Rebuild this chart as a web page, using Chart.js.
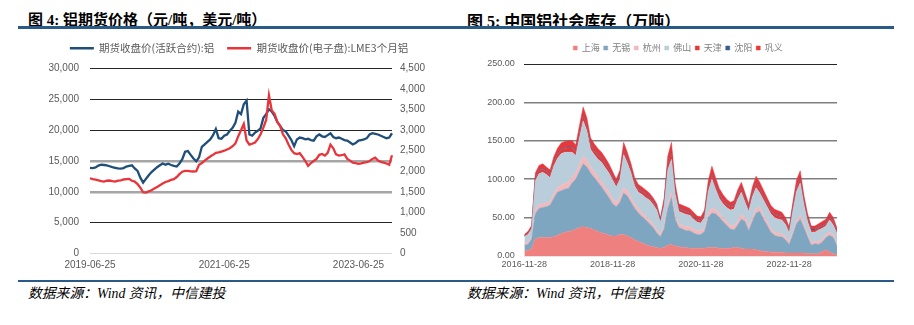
<!DOCTYPE html>
<html>
<head>
<meta charset="utf-8">
<script src="https://cdn.jsdelivr.net/npm/chart.js@4.4.1/dist/chart.umd.min.js"></script>
<style>
  body { margin: 0; background: #fff; width: 914px; height: 325px; position: relative; overflow: hidden; }
  .title { position: absolute; top: 8px; line-height: 18px; font: bold 15px "Liberation Serif", "Noto Sans CJK SC", sans-serif; color: #000; white-space: nowrap; }
  .rule { position: absolute; left: 18px; width: 876px; background: #2a5a87; }
  .src { position: absolute; top: 282px; line-height: 18px; font: italic 13.8px "Liberation Serif", "Noto Sans CJK SC", serif; color: #000; white-space: nowrap; }
  .box { position: absolute; top: 30px; width: 457px; height: 250px; }
</style>
</head>
<body>
<div class="title" style="left:28px">图 4: 铝期货价格（元/吨，美元/吨）</div>
<div class="title" style="left:467px;font-size:16px">图 5: 中国铝社会库存（万吨）</div>
<div class="rule" style="top:26px;height:2.5px"></div>
<div class="rule" style="top:280px;height:1.5px"></div>
<div class="src" style="left:28px">数据来源：Wind 资讯，中信建投</div>
<div class="src" style="left:467px">数据来源：Wind 资讯，中信建投</div>
<div class="box" style="left:0"><canvas id="priceChart" width="457" height="250"></canvas></div>
<div class="box" style="left:457px"><canvas id="stockChart" width="457" height="250"></canvas></div>
<script>
// 图4: semi-monthly closes, 2019-06-25 .. 2024-01
const shfeAl = [
  13900, 13850, 13950, 14250, 14400, 14350, 14300, 14150, 14000, 13900,
  13800, 13750, 13850, 14100, 14200, 14300, 13800, 13400, 12300, 11500,
  12100, 12700, 13200, 13600, 14000, 14300, 14600, 14400, 14550, 14350,
  14200, 14100, 14600, 15300, 16500, 16600, 16000, 15400, 14950, 15600,
  17300, 17700, 18100, 18500, 19200, 20200, 18700, 18600, 19100, 19300,
  19900, 20400, 21200, 23000, 22600, 24200, 24800, 19300, 19100, 19600,
  19900, 20300, 22000, 22600, 23400, 23000, 22300, 21300, 20700, 20000,
  19800, 19100, 18400, 17400, 18500, 18800, 18700, 18500, 18600, 18400,
  18300, 19000, 19300, 19000, 18900, 19200, 19500, 18900, 18700, 18800,
  18600, 18400, 18300, 18000, 17700, 17900, 18300, 18400, 18500, 18700,
  19300, 19500, 19400, 19300, 19100, 18900, 18700, 18800, 19500
];
const lmeAl = [
  1830, 1810, 1795, 1780, 1760, 1750, 1770, 1775, 1760, 1750,
  1770, 1780, 1800, 1810, 1815, 1770, 1750, 1690, 1600, 1490,
  1480, 1510, 1540, 1580, 1620, 1660, 1700, 1740, 1760, 1790,
  1810, 1860, 1930, 1990, 2010, 2010, 2000, 1995, 2000, 2160,
  2200, 2260, 2310, 2360, 2400, 2450, 2460, 2480, 2500, 2530,
  2560, 2610, 2680, 2850, 3000, 3150, 2750, 2650, 2670, 2700,
  2780, 2900, 3060, 3250, 3850, 3480, 3400, 3200, 3100, 2900,
  2800, 2650, 2520, 2440, 2420, 2440, 2350, 2250, 2130, 2200,
  2250, 2300, 2400, 2420, 2380, 2450, 2650, 2560, 2410, 2380,
  2390, 2410, 2300, 2260, 2210, 2200, 2180, 2190, 2210, 2220,
  2250, 2300, 2330, 2260, 2230, 2210, 2190, 2160, 2390
];
const priceTickIndex = [0, 48, 96];
const priceTickLabels = ['2019-06-25', '2021-06-25', '2023-06-25'];

// 图5: monthly, 2016-11 .. 2023-12 (万吨)
const shanghai = [
  7, 7, 10, 22, 24, 24, 24, 24, 25, 27,
  29, 31, 32, 33, 35, 37, 38, 37, 36, 34,
  32, 30, 29, 27, 26, 26, 28, 28, 26, 24,
  21, 19, 17, 15, 13, 12, 11, 10, 11, 14,
  15, 13, 12, 11, 11, 10, 10, 10, 10, 10,
  11, 11, 11, 10, 10, 10, 10, 11, 11, 10,
  9, 9, 9, 8, 7, 6, 6, 5, 5, 5,
  5, 4, 4, 4, 4, 4, 4, 3, 3, 3,
  3, 6, 8, 5, 3, 2
];
const wuxi = [
  7, 8, 12, 33, 38, 39, 40, 42, 50, 56,
  56, 56, 56, 62, 65, 73, 82, 79, 72, 68,
  64, 60, 54, 49, 42, 38, 42, 54, 52, 46,
  41, 37, 34, 32, 29, 25, 19, 15, 24, 48,
  61, 35, 25, 24, 22, 23, 20, 18, 18, 22,
  39, 45, 44, 40, 35, 30, 25, 23, 29, 38,
  36, 24, 36, 48, 51, 42, 34, 26, 22, 20,
  20, 17, 11, 24, 38, 44, 33, 22, 11, 13,
  12, 12, 16, 22, 21, 11
];
const hangzhou = [
  3, 3, 3, 5, 5, 5, 5, 5, 6, 6,
  7, 7, 8, 8, 8, 9, 10, 9, 8, 8,
  7, 7, 7, 7, 6, 6, 6, 7, 7, 6,
  6, 6, 5, 5, 5, 5, 4, 4, 5, 6,
  7, 6, 5, 5, 5, 5, 5, 5, 5, 5,
  6, 6, 6, 5, 5, 5, 5, 5, 5, 6,
  5, 5, 5, 6, 6, 5, 5, 5, 4, 4,
  4, 4, 4, 4, 4, 5, 5, 4, 4, 3,
  4, 4, 4, 4, 4, 3
];
const foshan = [
  8, 10, 10, 38, 40, 41, 37, 31, 36, 38,
  41, 41, 39, 32, 23, 35, 46, 38, 23, 22,
  23, 25, 25, 25, 25, 20, 24, 43, 36, 32,
  23, 21, 24, 24, 26, 25, 26, 15, 25, 44,
  43, 27, 16, 16, 16, 15, 13, 11, 10, 13,
  28, 38, 26, 20, 18, 18, 20, 22, 29, 29,
  20, 20, 27, 27, 18, 20, 19, 19, 19, 19,
  18, 16, 11, 27, 38, 42, 25, 16, 13, 12,
  15, 14, 11, 16, 12, 13
];
const tianjin = [
  1, 1.5, 2, 4, 4, 4, 4, 4, 5, 5,
  5, 5, 6, 6, 5, 6, 7, 7, 6, 5,
  5, 5, 5, 5, 4, 4, 5, 6, 5, 5,
  4, 4, 4, 4, 3, 3, 3, 2, 4, 7,
  8, 5, 4, 4, 4, 3, 3, 3, 3, 4,
  5, 6, 6, 5, 5, 4, 4, 4, 5, 5,
  5, 4, 5, 6, 5, 5, 5, 4, 4, 4,
  4, 3, 3, 4, 6, 6, 5, 4, 3, 3,
  3, 3, 3, 4, 4, 3
];
const shenyang = [
  0.5, 0.5, 0.5, 1, 1, 1, 1, 1, 1, 1,
  1, 1, 1, 1, 1, 1, 1, 1, 1, 1,
  1, 1, 1, 1, 1, 1, 1, 1, 1, 1,
  1, 1, 1, 1, 1, 1, 1, 1, 1, 1,
  1, 1, 1, 1, 1, 1, 1, 1, 1, 1,
  1, 1, 1, 1, 1, 1, 1, 1, 1, 1,
  1, 1, 1, 1, 1, 1, 1, 1, 1, 1,
  1, 1, 1, 1, 1, 1, 1, 1, 1, 1,
  1, 1, 1, 1, 1, 1
];
const gongyi = [
  1.5, 2, 2.5, 5, 6, 6, 5, 5, 6, 7,
  8, 8, 8, 8, 8, 9, 10, 9, 8, 8,
  8, 7, 7, 6, 6, 5, 6, 9, 8, 6,
  6, 5, 5, 5, 5, 5, 4, 3, 5, 10,
  13, 8, 5, 5, 5, 5, 5, 4, 4, 5,
  8, 10, 8, 7, 6, 6, 5, 6, 6, 7,
  6, 5, 7, 8, 8, 7, 6, 6, 6, 6,
  5, 5, 4, 6, 8, 9, 6, 5, 4, 4,
  4, 5, 5, 5, 5, 3
];
const stockTickIndex = [0, 24, 48, 72];
const stockTickLabels = ['2016-11-28', '2018-11-28', '2020-11-28', '2022-11-28'];
const cities = ['上海', '无锡', '杭州', '佛山', '天津', '沈阳', '巩义'];
const cityColors = ['#ef8080', '#7fa6c0', '#f2b9bd', '#bacdda', '#e0393c', '#3a5e8c', '#e8383d'];

const tickColor = '#595959';

// stretch legend box so the plot starts where the original does
function legendGap(extra) {
    return {
        id: 'legendGap',
        beforeInit(chart) {
            const fit = chart.legend.fit;
            chart.legend.fit = function () {
                fit.call(this);
                this.height += extra;
            };
        }
    };
}

document.addEventListener("DOMContentLoaded", function () {
    // 图4 铝期货价格
    const priceLabels = shfeAl.map((_, i) => i);
    new Chart(document.getElementById('priceChart'), {
        type: 'line',
        data: {
            labels: priceLabels,
            datasets: [
                {
                    label: '期货收盘价(活跃合约):铝',
                    data: shfeAl,
                    borderColor: '#1f4e79',
                    backgroundColor: '#1f4e79',
                    borderWidth: 2.3,
                    pointRadius: 0,
                    yAxisID: 'y',
                    order: 1
                },
                {
                    label: '期货收盘价(电子盘):LME3个月铝',
                    data: lmeAl,
                    borderColor: '#e8353b',
                    backgroundColor: '#e8353b',
                    borderWidth: 2.3,
                    pointRadius: 0,
                    yAxisID: 'y1',
                    order: 0
                }
            ]
        },
        plugins: [legendGap(5)],
        options: {
            responsive: false,
            animation: false,
            layout: { padding: { top: 0, left: 21, right: 0, bottom: 0 } },
            plugins: {
                legend: {
                    position: 'top',
                    labels: {
                        usePointStyle: true,
                        pointStyle: 'line',
                        pointStyleWidth: 24,
                        padding: 13,
                        color: tickColor,
                        font: { family: '"Noto Sans CJK SC"', size: 10.5 },
                        sort: (a, b) => a.datasetIndex - b.datasetIndex
                    }
                },
                tooltip: { enabled: false }
            },
            scales: {
                x: {
                    grid: { display: false, drawTicks: false },
                    border: { display: false },
                    ticks: {
                        autoSkip: false,
                        maxRotation: 0,
                        minRotation: 0,
                        padding: 6,
                        color: tickColor,
                        font: { family: '"Liberation Sans"', size: 10 },
                        callback: function (value, index) {
                            const k = priceTickIndex.indexOf(index);
                            return k >= 0 ? priceTickLabels[k] : null;
                        }
                    },
                    afterFit: (scale) => { scale.height = 26.5; }
                },
                y: {
                    position: 'left',
                    min: 0,
                    max: 30000,
                    border: { display: false },
                    grid: {
                        drawTicks: false,
                        color: (c) => {
                            const v = c.tick.value;
                            if (v === 0) return '#d9d9d9';
                            if (v === 15000 || v === 10000) return '#a6a6a6';
                            return '#262626';
                        },
                        lineWidth: (c) => (c.tick.value === 15000 || c.tick.value === 10000) ? 2.5 : 1
                    },
                    ticks: {
                        stepSize: 5000,
                        padding: 11,
                        color: tickColor,
                        font: { family: '"Liberation Sans"', size: 10 },
                        callback: (v) => v.toLocaleString('en-US')
                    },
                    afterFit: (scale) => { scale.width = 69; }
                },
                y1: {
                    position: 'right',
                    min: 0,
                    max: 4500,
                    border: { display: false },
                    grid: { display: false, drawTicks: false },
                    ticks: {
                        stepSize: 500,
                        padding: 8,
                        color: tickColor,
                        font: { family: '"Liberation Sans"', size: 10 },
                        callback: (v) => v.toLocaleString('en-US')
                    },
                    afterFit: (scale) => { scale.width = 65; }
                }
            }
        }
    });

    // 图5 中国铝社会库存
    const stockLabels = shanghai.map((_, i) => i);
    const citySeries = [shanghai, wuxi, hangzhou, foshan, tianjin, shenyang, gongyi];
    new Chart(document.getElementById('stockChart'), {
        type: 'line',
        data: {
            labels: stockLabels,
            datasets: cities.map((name, i) => ({
                label: name,
                data: citySeries[i],
                backgroundColor: cityColors[i],
                borderColor: cityColors[i],
                borderWidth: 0.5,
                pointRadius: 0,
                fill: i === 0 ? 'origin' : '-1'
            }))
        },
        plugins: [legendGap(1.5)],
        options: {
            responsive: false,
            animation: false,
            layout: { padding: { top: 9.5, left: 0, right: 15, bottom: 0 } },
            plugins: {
                legend: {
                    position: 'top',
                    labels: {
                        boxWidth: 4,
                        boxHeight: 4,
                        padding: 4,
                        color: '#7f7f7f',
                        font: { family: '"Noto Sans CJK SC"', size: 9 }
                    }
                },
                tooltip: { enabled: false }
            },
            scales: {
                x: {
                    grid: { display: false, drawTicks: false },
                    border: { display: false },
                    ticks: {
                        autoSkip: false,
                        maxRotation: 0,
                        minRotation: 0,
                        padding: 3,
                        color: tickColor,
                        font: { family: '"Liberation Sans"', size: 9 },
                        callback: function (value, index) {
                            const k = stockTickIndex.indexOf(index);
                            return k >= 0 ? stockTickLabels[k] : null;
                        }
                    },
                    afterFit: (scale) => { scale.height = 24; }
                },
                y: {
                    stacked: true,
                    min: 0,
                    max: 250,
                    border: { display: false },
                    grid: {
                        drawTicks: false,
                        color: (c) => {
                            const v = c.tick.value;
                            if (v === 0) return '#e6e6e6';
                            if (v === 250) return '#262626';
                            return '#7f7f7f';
                        },
                        lineWidth: (c) => (c.tick.value === 250 || c.tick.value === 0) ? 1 : 1.6
                    },
                    ticks: {
                        stepSize: 50,
                        padding: 9.6,
                        color: tickColor,
                        font: { family: '"Liberation Sans"', size: 9 },
                        callback: (v) => v.toFixed(2)
                    },
                    afterFit: (scale) => { scale.width = 67.3; }
                },
                // empty right margin so the legend centres like the original
                yPad: {
                    position: 'right',
                    min: 0,
                    max: 250,
                    border: { display: false },
                    grid: { display: false, drawTicks: false },
                    ticks: { display: false },
                    afterFit: (scale) => { scale.width = 62; }
                }
            }
        }
    });
});
</script>
</body>
</html>
